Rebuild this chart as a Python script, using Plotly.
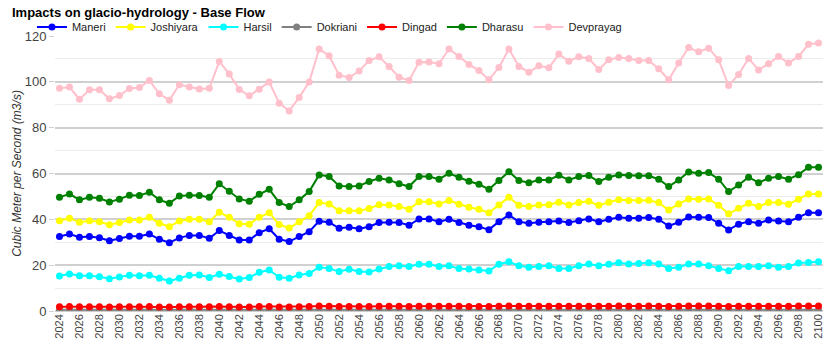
import plotly.graph_objects as go

years = list(range(2024, 2101))

maneri = [32.5, 33.6, 32.2, 32.5, 32.0, 30.7, 31.6, 32.6, 32.6, 33.6, 31.3, 29.8, 31.9, 33.0, 33.0, 31.7,
          35.1, 32.9, 31.0, 31.0, 34.2, 35.9, 31.3, 30.3, 32.5, 34.6, 39.2, 38.7, 36.1, 36.5, 35.9, 36.8,
          38.6, 38.7, 38.6, 37.4, 40.2, 40.2, 39.0, 40.0, 38.6, 37.4, 36.8, 35.5, 39.0, 41.9, 38.9, 38.3,
          38.7, 38.9, 39.3, 38.6, 39.4, 40.2, 39.0, 40.0, 40.9, 40.5, 40.5, 40.8, 40.0, 37.1, 38.7, 41.0,
          40.9, 40.8, 38.3, 35.4, 37.9, 39.0, 38.3, 39.7, 39.3, 38.9, 40.9, 42.9, 42.9]

joshiyara = [39.4, 40.5, 38.7, 39.4, 38.9, 37.6, 38.6, 39.7, 39.7, 40.9, 38.3, 36.8, 39.3, 40.0, 40.0, 39.0,
             43.1, 40.9, 38.1, 37.9, 40.9, 42.9, 37.7, 36.2, 38.9, 41.6, 47.3, 46.7, 43.7, 43.8, 43.7, 44.7,
             46.4, 46.3, 45.6, 44.4, 47.7, 47.7, 46.7, 48.2, 46.6, 45.3, 44.4, 42.9, 46.3, 49.6, 46.1, 45.6,
             46.3, 46.4, 47.5, 46.3, 47.3, 47.9, 46.1, 47.5, 48.5, 48.2, 48.2, 48.3, 47.3, 44.1, 46.7, 48.9,
             48.8, 48.9, 46.1, 42.4, 44.8, 47.0, 45.6, 47.3, 47.3, 46.6, 48.8, 51.1, 51.1]

harsil = [15.3, 16.2, 15.4, 15.4, 15.0, 14.1, 14.8, 15.6, 15.4, 15.6, 14.3, 13.1, 14.3, 15.6, 15.7, 14.6,
          16.0, 15.1, 14.0, 14.6, 16.9, 17.9, 14.7, 14.3, 15.7, 16.4, 19.1, 18.6, 17.2, 18.2, 17.2, 17.0,
          18.3, 19.4, 19.7, 19.4, 20.4, 20.4, 19.4, 19.7, 18.5, 18.3, 17.9, 17.5, 20.4, 21.5, 19.7, 19.1,
          19.4, 19.7, 18.6, 18.6, 19.7, 20.5, 19.8, 20.4, 21.1, 20.5, 20.7, 21.1, 20.5, 18.6, 19.1, 20.5,
          20.5, 19.8, 18.6, 17.6, 19.4, 19.4, 19.4, 19.8, 19.1, 19.4, 21.0, 21.2, 21.5]

dokriani = [0.6] * 77

dingad = [1.9, 2.0, 1.9, 1.9, 1.9, 1.8, 1.9, 1.9, 1.9, 2.0, 1.8, 1.8, 1.9, 1.9, 1.9, 1.9,
          2.0, 1.9, 1.8, 1.8, 2.0, 2.0, 1.8, 1.8, 1.9, 2.0, 2.2, 2.1, 2.0, 2.0, 2.0, 2.0,
          2.1, 2.1, 2.1, 2.0, 2.1, 2.1, 2.1, 2.1, 2.1, 2.0, 2.0, 2.0, 2.1, 2.2, 2.1, 2.1,
          2.1, 2.1, 2.1, 2.1, 2.1, 2.1, 2.1, 2.1, 2.2, 2.1, 2.1, 2.2, 2.1, 2.0, 2.1, 2.2,
          2.2, 2.2, 2.1, 2.0, 2.1, 2.1, 2.1, 2.1, 2.1, 2.1, 2.2, 2.2, 2.2]

dharasu = [49.6, 51.1, 48.5, 49.6, 49.2, 47.6, 48.8, 50.5, 50.4, 51.8, 48.5, 47.0, 50.2, 50.5, 50.4, 49.6,
           55.5, 52.3, 48.9, 47.9, 50.9, 53.1, 47.3, 45.6, 48.5, 52.1, 59.4, 58.7, 54.6, 54.3, 54.6, 56.5,
           57.9, 57.2, 55.5, 54.3, 58.7, 58.7, 57.5, 60.1, 58.4, 56.6, 55.3, 53.1, 56.9, 60.8, 56.9, 56.0,
           57.2, 57.2, 59.2, 57.2, 58.7, 59.1, 56.5, 58.4, 59.4, 59.1, 59.0, 59.0, 57.5, 54.3, 57.2, 60.7,
           60.1, 60.4, 57.5, 52.1, 55.0, 58.4, 56.0, 57.9, 58.7, 57.5, 59.5, 62.7, 62.7]

devprayag = [97.2, 97.7, 92.4, 96.5, 96.5, 92.6, 94.0, 97.1, 97.5, 100.6, 94.8, 92.0, 98.7, 97.7, 96.9, 97.2,
             108.9, 103.4, 96.7, 93.9, 96.8, 99.9, 90.7, 87.3, 93.2, 99.9, 114.3, 111.4, 102.9, 101.9, 104.7, 109.3,
             110.9, 106.7, 102.0, 100.6, 108.6, 108.7, 107.9, 114.3, 111.1, 107.6, 104.9, 100.9, 106.3, 114.3, 106.7, 104.2,
             107.0, 106.1, 112.1, 109.0, 110.9, 110.2, 105.4, 109.6, 110.6, 110.2, 109.3, 109.3, 105.7, 100.9, 108.2, 115.0,
             113.1, 114.7, 109.6, 98.4, 103.2, 110.2, 105.2, 107.9, 111.1, 108.2, 111.1, 116.4, 116.9]

series = [
    ("Maneri", maneri, "#0000FF"),
    ("Joshiyara", joshiyara, "#FFFF00"),
    ("Harsil", harsil, "#00FFFF"),
    ("Dokriani", dokriani, "#808080"),
    ("Dingad", dingad, "#FF0000"),
    ("Dharasu", dharasu, "#008000"),
    ("Devprayag", devprayag, "#FFC0CB"),
]

tick_years = list(range(2024, 2101, 2))

fig = go.Figure()
for name, vals, color in series:
    fig.add_trace(go.Scatter(
        x=years, y=vals, name=name, mode="lines+markers",
        line=dict(color=color, width=2),
        marker=dict(color=color, size=7),
    ))

fig.update_layout(
    width=835, height=355,
    margin=dict(l=55, r=12, t=36, b=44, autoexpand=False),
    paper_bgcolor="white", plot_bgcolor="white",
    font=dict(family="Liberation Sans, Arial, sans-serif", color="#444"),
    title=dict(text="<b>Impacts on glacio-hydrology - Base Flow</b>",
               x=12 / 835, xref="container", xanchor="left",
               y=1 - 12 / 355, yref="container", yanchor="middle",
               font=dict(size=13, color="#000")),
    legend=dict(orientation="h", x=-0.030, xanchor="left",
                y=1 + 9 / 275, yanchor="middle",
                font=dict(size=11, color="#222"), bgcolor="rgba(0,0,0,0)",
                itemclick=False),
    showlegend=True,
)

fig.update_xaxes(
    range=[2023.55, 2100.45],
    tickmode="array", tickvals=tick_years, ticktext=[str(y) for y in tick_years],
    tickangle=-90, tickfont=dict(size=11, color="#444"),
    showgrid=False, zeroline=False, showline=False, ticks="",
    automargin=False,
)

fig.update_yaxes(
    range=[0, 120], dtick=20,
    showgrid=True, gridcolor="#d0d0d0", gridwidth=2,
    minor=dict(dtick=10, showgrid=True, gridcolor="#ececec", gridwidth=1),
    zeroline=True, zerolinecolor="#cccccc", zerolinewidth=2,
    ticks="outside", ticklen=5, tickcolor="#d0d0d0",
    tickfont=dict(size=13, color="#444"),
    automargin=False,
    title=dict(text="<i>Cubic Meter per Second (m3/s)</i>", font=dict(size=12, color="#333"), standoff=0),
)

fig.write_html("out.html", config={"displayModeBar": False},
               post_script="document.body.style.margin='0';")
